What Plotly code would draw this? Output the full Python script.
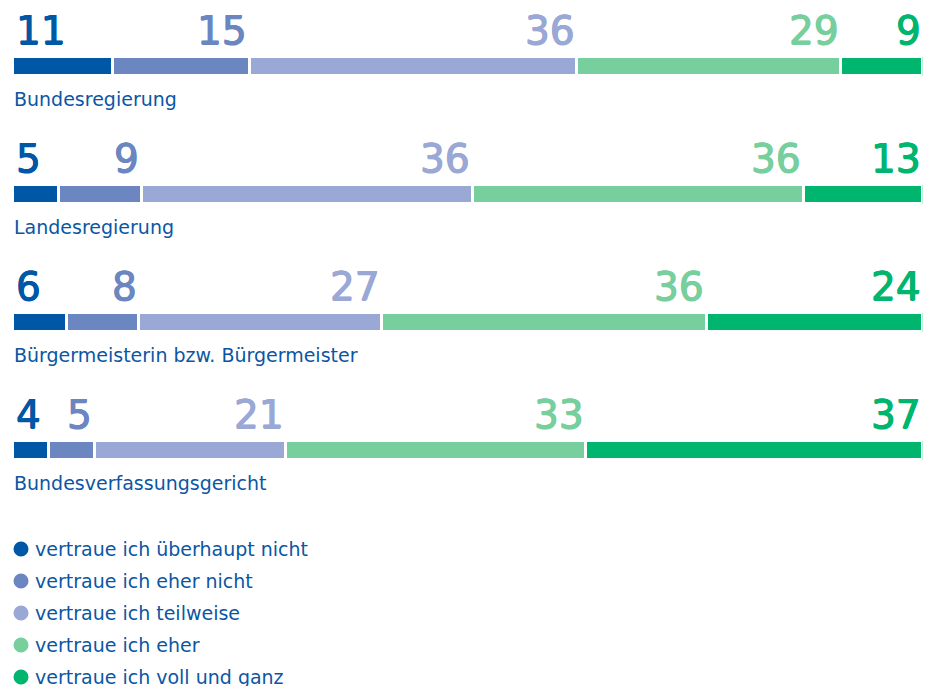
import plotly.graph_objects as go

categories = ["Bundesregierung", "Landesregierung",
              "Bürgermeisterin bzw. Bürgermeister", "Bundesverfassungsgericht"]
levels = ["vertraue ich überhaupt nicht", "vertraue ich eher nicht",
          "vertraue ich teilweise", "vertraue ich eher", "vertraue ich voll und ganz"]
ueberhaupt_nicht = [11, 5, 6, 4]
eher_nicht = [15, 9, 8, 5]
teilweise = [36, 36, 27, 21]
eher = [29, 36, 36, 33]
voll_und_ganz = [9, 13, 24, 37]

series = [ueberhaupt_nicht, eher_nicht, teilweise, eher, voll_und_ganz]
colors = ["#0057A6", "#6C86C1", "#99A8D4", "#76CF9D", "#00B56E"]
text_color = "#0B56A4"

W, H = 930, 686
row_y = [66, 194, 322, 450]  # layout positions (pixel-like y axis)
FONT = "DejaVu Sans"

fig = go.Figure()
for name, vals, col in zip(levels, series, colors):
    fig.add_trace(go.Bar(
        y=row_y, x=vals, orientation="h", name=name,
        marker=dict(color=col, line=dict(color="white", width=3)),
        width=19, showlegend=False, hoverinfo="x+name",
    ))

annotations = []
for i, yy in enumerate(row_y):
    total = sum(s[i] for s in series)
    cum = 0
    for j, (vals, col) in enumerate(zip(series, colors)):
        cum += vals[i]
        if j == 0:
            ann = dict(x=0, xanchor="left", xshift=1.5)
        else:
            ann = dict(x=cum / total * 100, xanchor="right", xshift=0)
        sh = f"0.6px 0 0 {col}, -0.6px 0 0 {col}, 0 0.5px 0 {col}"
        annotations.append(dict(
            y=yy - 36, xref="x", yref="y",
            text=str(vals[i]), showarrow=False, yanchor="middle",
            font=dict(family=FONT, size=39, color=col, shadow=sh), **ann,
        ))
    annotations.append(dict(
        x=0, y=yy + 33, xref="paper", yref="y", text=categories[i], showarrow=False,
        xanchor="left", yanchor="middle", xshift=12,
        font=dict(family=FONT, size=19, color=text_color),
    ))

shapes = []
leg_y0 = 549
for k, (name, col) in enumerate(zip(levels, colors)):
    yy = leg_y0 + 32 * k
    shapes.append(dict(type="circle", xref="paper", yref="y",
                       x0=13.5 / W, x1=28.5 / W, y0=yy - 7.5, y1=yy + 7.5,
                       fillcolor=col, line=dict(width=0)))
    annotations.append(dict(
        x=33 / W, y=yy, xref="paper", yref="y", text=name, showarrow=False,
        xanchor="left", yanchor="middle",
        font=dict(family=FONT, size=19, color=text_color),
    ))

fig.update_layout(
    width=W, height=H, margin=dict(l=0, r=0, t=0, b=0),
    paper_bgcolor="white", plot_bgcolor="white",
    barmode="stack", barnorm="percent",
    xaxis=dict(range=[0, 100], domain=[12.5 / W, 922.5 / W], visible=False, fixedrange=True),
    yaxis=dict(range=[H, 0], domain=[0, 1], visible=False, fixedrange=True),
    annotations=annotations, shapes=shapes,
)

fig.write_html("out.html", config={"displayModeBar": False},
               post_script="document.body.style.margin='0px';document.body.style.overflow='hidden';")
